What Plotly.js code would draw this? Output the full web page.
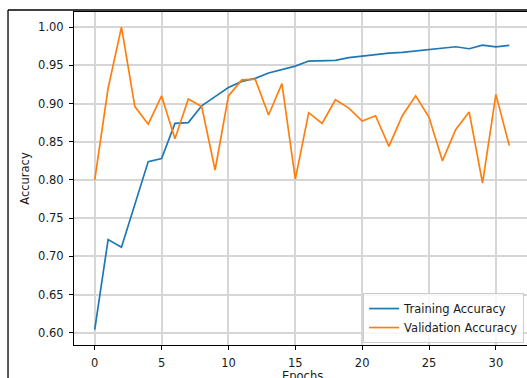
<!DOCTYPE html>
<html>
<head>
<meta charset="utf-8">
<script src="https://cdn.plot.ly/plotly-3.0.1.min.js"></script>
<style>
  html, body { margin: 0; padding: 0; background: #ffffff; overflow: hidden; width: 527px; height: 378px; }
  #chart { width: 560px; height: 378px; }
</style>
</head>
<body>
<div id="chart"></div>
<script>
const epochs = [0,1,2,3,4,5,6,7,8,9,10,11,12,13,14,15,16,17,18,19,20,21,22,23,24,25,26,27,28,29,30,31];
const trainingAccuracy = [0.604,0.722,0.712,0.768,0.824,0.828,0.874,0.875,0.897,0.909,0.921,0.929,0.933,0.940,0.944,0.949,0.9556,0.9556,0.9564,0.960,0.962,0.9638,0.966,0.967,0.9686,0.9712,0.9725,0.9743,0.9717,0.9765,0.9743,0.976];
const validationAccuracy = [0.800,0.920,1.000,0.896,0.873,0.910,0.854,0.906,0.896,0.813,0.910,0.931,0.932,0.885,0.926,0.801,0.888,0.874,0.905,0.894,0.877,0.884,0.844,0.884,0.910,0.882,0.825,0.866,0.889,0.796,0.912,0.845];
const seriesNames = ["Training Accuracy", "Validation Accuracy"];
const xTicks = [0,5,10,15,20,25,30];
const yTicks = [0.60,0.65,0.70,0.75,0.80,0.85,0.90,0.95,1.00];
const xTitle = "Epochs";
const yTitle = "Accuracy";

const font = { family: "DejaVu Sans, sans-serif", size: 11.5, color: "#1a1a1a" };

const traces = [
  { x: epochs, y: trainingAccuracy, name: seriesNames[0], type: "scatter", mode: "lines",
    line: { color: "#1f77b4", width: 1.7 } },
  { x: epochs, y: validationAccuracy, name: seriesNames[1], type: "scatter", mode: "lines",
    line: { color: "#ff7f0e", width: 1.7 } }
];

const axisCommon = {
  showline: true, linecolor: "#000000", linewidth: 1, mirror: true,
  ticks: "outside", ticklen: 4, tickwidth: 1, tickcolor: "#000000",
  showgrid: true, gridcolor: "#d6d6d6", gridwidth: 2,
  zeroline: false, tickfont: font
};

const layout = {
  width: 560, height: 378,
  margin: { l: 74, r: 30, t: 12, b: 33, pad: 0 },
  paper_bgcolor: "#ffffff", plot_bgcolor: "#ffffff",
  font: font,
  showlegend: true,
  xaxis: Object.assign({}, axisCommon, {
    range: [-1.55, 32.55], tickmode: "array", tickvals: xTicks, ticktext: xTicks.map(String),
    ticklabelstandoff: 3
  }),
  yaxis: Object.assign({}, axisCommon, {
    range: [0.584, 1.0198], tickmode: "array", tickvals: yTicks, ticktext: yTicks.map(v => v.toFixed(2)),
    ticklabelstandoff: 3,
    title: { text: yTitle, font: font, standoff: 6 }
  }),
  annotations: [
    { text: xTitle, xref: "paper", yref: "paper", x: 0.5, y: -0.094,
      xanchor: "center", yanchor: "middle", showarrow: false, font: font }
  ],
  legend: {
    x: 0.634, y: 0.156, xanchor: "left", yanchor: "top",
    bgcolor: "rgba(255,255,255,0.8)", bordercolor: "#cccccc", borderwidth: 1,
    font: font
  },
  shapes: [
    { type: "line", xref: "paper", yref: "paper", x0: -0.1447, x1: -0.1447, y0: 1.006, y1: -0.15,
      line: { color: "#000000", width: 1.3 } },
    { type: "line", xref: "paper", yref: "paper", x0: -0.1447, x1: 1.2, y0: 1.006, y1: 1.006,
      line: { color: "#000000", width: 1.3 } }
  ]
};

Plotly.newPlot("chart", traces, layout, { displayModeBar: false, staticPlot: true });
</script>
</body>
</html>
